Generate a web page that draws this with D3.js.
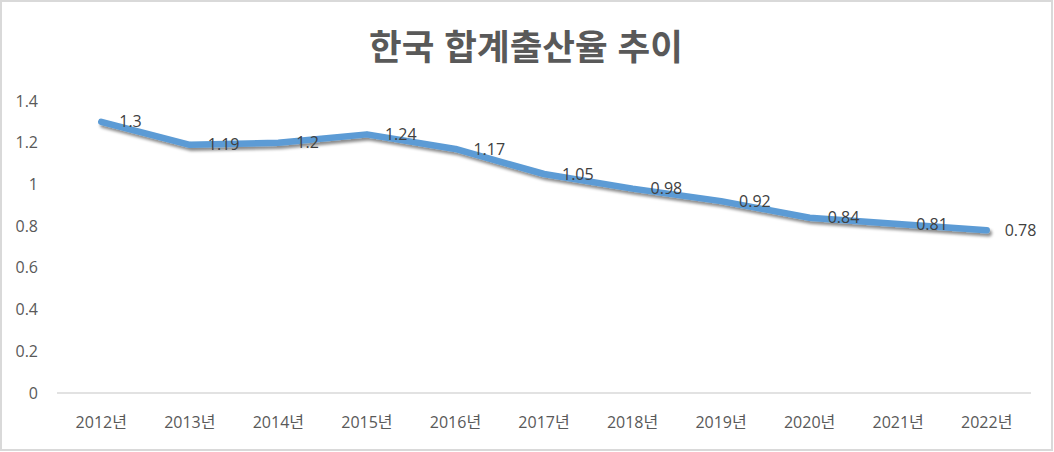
<!DOCTYPE html>
<html lang="ko">
<head>
<meta charset="UTF-8">
<title>한국 합계출산율 추이</title>
<script src="https://d3js.org/d3.v7.min.js"></script>
<style>
  body { margin: 0; background: #fff; }
  svg { display: block; font-family: "Open Sans", "Noto Sans CJK KR", sans-serif; }
</style>
</head>
<body>
<svg id="chart" width="1054" height="452"></svg>
<script>
const years = ["2012년", "2013년", "2014년", "2015년", "2016년", "2017년",
               "2018년", "2019년", "2020년", "2021년", "2022년"];
const rates = [1.3, 1.19, 1.2, 1.24, 1.17, 1.05, 0.98, 0.92, 0.84, 0.81, 0.78];
const yTicks = [0, 0.2, 0.4, 0.6, 0.8, 1, 1.2, 1.4];

const svg = d3.select("#chart");
const W = 1054, H = 452;

// outer chart border
svg.append("rect")
  .attr("x", 1).attr("y", 1)
  .attr("width", W - 3).attr("height", H - 3)
  .attr("fill", "#fff").attr("stroke", "#d9d9d9").attr("stroke-width", 2);

svg.append("text")
  .attr("x", 526).attr("y", 60)
  .attr("text-anchor", "middle")
  .attr("font-family", "'Noto Sans CJK KR', sans-serif")
  .attr("font-size", 35.5).attr("font-weight", "bold")
  .attr("fill", "#595959")
  .text("한국 합계출산율 추이");

const x = d3.scaleBand().domain(years).range([57, 1031]);
const y = d3.scaleLinear().domain([0, 1.4]).range([393, 101]);

// y labels
svg.append("g").selectAll("text")
  .data(yTicks).join("text")
  .attr("x", 38).attr("y", d => y(d))
  .attr("dy", "0.35em")
  .attr("text-anchor", "end")
  .attr("font-size", 16).attr("fill", "#595959")
  .text(d => d);

// baseline
svg.append("line")
  .attr("x1", 57).attr("x2", 1031)
  .attr("y1", y(0)).attr("y2", y(0))
  .attr("stroke", "#d9d9d9").attr("stroke-width", 1.5);

// x labels
svg.append("g").selectAll("text")
  .data(years).join("text")
  .attr("x", d => x(d) + x.bandwidth() / 2)
  .attr("y", 428)
  .attr("text-anchor", "middle")
  .attr("font-size", 16).attr("fill", "#595959")
  .text(d => d);

const defs = svg.append("defs");
const f = defs.append("filter").attr("id", "shadow")
  .attr("x", "-10%").attr("y", "-50%").attr("width", "120%").attr("height", "200%");
f.append("feDropShadow")
  .attr("dx", 2).attr("dy", 3).attr("stdDeviation", 1.6)
  .attr("flood-color", "#000").attr("flood-opacity", 0.45);

const pts = years.map((yr, i) => ({ yr, v: rates[i] }));
const line = d3.line()
  .x(d => x(d.yr) + x.bandwidth() / 2)
  .y(d => y(d.v));

svg.append("path")
  .datum(pts)
  .attr("d", line)
  .attr("fill", "none")
  .attr("stroke", "#5b9bd5")
  .attr("stroke-width", 6.5)
  .attr("stroke-linecap", "round")
  .attr("stroke-linejoin", "round")
  .attr("filter", "url(#shadow)");

// data labels, to the right of each point
svg.append("g").selectAll("text")
  .data(pts).join("text")
  .attr("x", d => x(d.yr) + x.bandwidth() / 2 + 18)
  .attr("y", d => y(d.v))
  .attr("dy", "0.35em")
  .attr("font-size", 16).attr("fill", "#404040")
  .text(d => d.v);
</script>
</body>
</html>
